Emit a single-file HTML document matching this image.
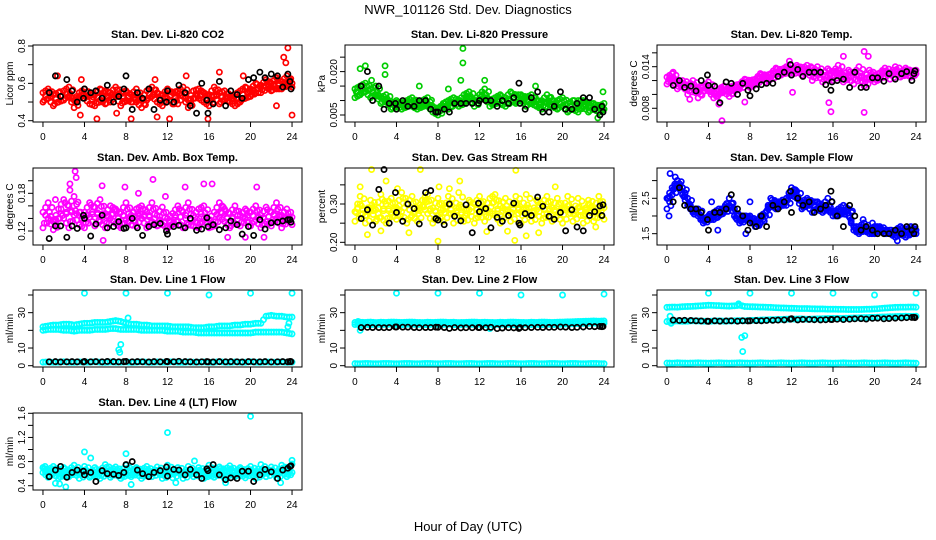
<!DOCTYPE html>
<html><head><meta charset="utf-8"><style>
html,body{margin:0;padding:0;background:#fff}
svg{display:block;font-family:"Liberation Sans",sans-serif}
</style></head><body>
<svg id="chart" width="936" height="540" viewBox="0 0 936 540" xmlns="http://www.w3.org/2000/svg">
<text x="468" y="14" text-anchor="middle" font-size="13">NWR_101126  Std. Dev. Diagnostics</text>
<text x="468" y="531" text-anchor="middle" font-size="13">Hour of Day (UTC)</text>
</svg>
<script>
const hoursC=[0,0.5,1,1.5,2,2.5,3,3.5,4,4.5,5,5.5,6,6.5,7,7.5,8,8.5,9,9.5,10,10.5,11,11.5,12,12.5,13,13.5,14,14.5,15,15.5,16,16.5,17,17.5,18,18.5,19,19.5,20,20.5,21,21.5,22,22.5,23,23.5,24];
const hoursK=[0.6,1.2,1.7,2.3,2.8,3.3,3.9,4.0,4.6,5.1,5.7,6.2,6.8,7.3,7.8,8.0,8.6,9.1,9.6,10.2,10.7,11.3,11.9,12.0,12.6,13.1,13.7,14.2,14.8,15.3,15.8,15.9,16.4,17.0,17.6,18.1,18.7,19.2,19.8,20.3,20.9,21.4,22.0,22.6,23.1,23.6,23.8,23.9];
const xTicks=[0,4,8,12,16,20,24];

const co2A=[0.55,0.52,0.54,0.50,0.56,0.53,0.51,0.55,0.52,0.49,0.54,0.51,0.56,0.50,0.53,0.55,0.51,0.54,0.50,0.52,0.56,0.53,0.50,0.54,0.52,0.55,0.49,0.53,0.51,0.56,0.52,0.50,0.54,0.53,0.55,0.51,0.50,0.54,0.56,0.52,0.57,0.55,0.59,0.58,0.60,0.57,0.61,0.59,0.58];
const co2B=[0.50,0.57,0.48,0.55,0.51,0.58,0.47,0.53,0.57,0.54,0.48,0.57,0.49,0.55,0.58,0.48,0.56,0.50,0.57,0.47,0.51,0.58,0.55,0.48,0.57,0.49,0.56,0.58,0.47,0.52,0.57,0.55,0.48,0.58,0.49,0.56,0.53,0.48,0.50,0.58,0.53,0.60,0.55,0.62,0.56,0.63,0.57,0.64,0.60];
const co2OutX=[5.2,3.6,7.1,11,12.2,15.9,17,23.6,23.2,23.4,24,13.8,19.3,1.4,22.5,8.5,3.7,10.8];
const co2OutY=[0.41,0.43,0.44,0.42,0.41,0.41,0.66,0.79,0.74,0.71,0.43,0.64,0.64,0.64,0.48,0.41,0.62,0.62];
const co2K=[0.55,0.64,0.53,0.62,0.56,0.50,0.52,0.57,0.55,0.56,0.52,0.59,0.50,0.53,0.57,0.64,0.46,0.55,0.52,0.57,0.46,0.51,0.50,0.56,0.50,0.59,0.55,0.48,0.44,0.60,0.51,0.44,0.49,0.61,0.48,0.56,0.54,0.52,0.62,0.63,0.66,0.63,0.65,0.64,0.58,0.65,0.61,0.57];

const presA=[0.014,0.015,0.013,0.014,0.012,0.011,0.010,0.009,0.008,0.009,0.010,0.008,0.009,0.010,0.008,0.006,0.007,0.009,0.010,0.011,0.010,0.012,0.011,0.010,0.012,0.011,0.010,0.011,0.009,0.011,0.010,0.012,0.010,0.011,0.009,0.008,0.010,0.009,0.008,0.010,0.008,0.009,0.007,0.010,0.008,0.009,0.007,0.008,0.009];
const presB=[0.011,0.012,0.016,0.011,0.015,0.009,0.012,0.007,0.010,0.007,0.008,0.011,0.007,0.008,0.011,0.008,0.005,0.008,0.007,0.009,0.008,0.009,0.013,0.008,0.010,0.014,0.008,0.009,0.012,0.008,0.013,0.009,0.012,0.008,0.012,0.010,0.007,0.012,0.010,0.007,0.011,0.006,0.010,0.006,0.010,0.006,0.009,0.006,0.007];
const presOutX=[0.5,1.0,2.9,2.9,10.4,10.4,10.2,12.5,17.4,23.9,6.2,23.4,1.6,9.0];
const presOutY=[0.021,0.022,0.022,0.019,0.028,0.023,0.017,0.017,0.015,0.013,0.015,0.004,0.017,0.014];
const presK=[0.015,0.020,0.010,0.015,0.007,0.009,0.009,0.007,0.010,0.008,0.008,0.010,0.010,0.007,0.006,0.006,0.007,0.006,0.009,0.009,0.009,0.009,0.009,0.010,0.010,0.010,0.008,0.010,0.009,0.011,0.016,0.009,0.007,0.011,0.013,0.006,0.006,0.008,0.013,0.007,0.007,0.009,0.011,0.011,0.007,0.005,0.008,0.006];

const tempA=[0.0125,0.0122,0.0118,0.0115,0.0112,0.0110,0.0108,0.0112,0.0105,0.0102,0.0108,0.0104,0.0110,0.0113,0.0115,0.0117,0.0120,0.0122,0.0125,0.0127,0.0130,0.0132,0.0135,0.0133,0.0136,0.0134,0.0137,0.0135,0.0133,0.0130,0.0128,0.0125,0.0132,0.0135,0.0128,0.0124,0.0130,0.0127,0.0122,0.0125,0.0128,0.0131,0.0133,0.0130,0.0134,0.0132,0.0129,0.0133,0.0135];
const tempB=[0.0115,0.0130,0.0108,0.0120,0.0100,0.0120,0.0095,0.0105,0.0118,0.0095,0.0100,0.0112,0.0097,0.0105,0.0108,0.0122,0.0110,0.0115,0.0130,0.0118,0.0122,0.0138,0.0128,0.0140,0.0128,0.0142,0.0128,0.0142,0.0120,0.0140,0.0118,0.0137,0.0120,0.0142,0.0118,0.0135,0.0115,0.0140,0.0112,0.0135,0.0118,0.0122,0.0138,0.0122,0.0140,0.0125,0.0138,0.0125,0.0130];
const tempOutX=[5.3,15.8,19.0,19.0,19.4,17.0,14.0,15.6,2.2,7.5,0.6,12.1,5.0,11.8];
const tempOutY=[0.0062,0.0075,0.0074,0.0162,0.0155,0.0155,0.0138,0.0088,0.0093,0.0089,0.0132,0.0103,0.0086,0.0148];
const tempK=[0.0113,0.0120,0.0110,0.0112,0.0105,0.0120,0.0128,0.0113,0.0112,0.0088,0.0118,0.0116,0.0100,0.0116,0.0106,0.0098,0.0108,0.0114,0.0116,0.0116,0.0126,0.0132,0.0143,0.0128,0.0136,0.0126,0.0132,0.0132,0.0132,0.0114,0.0106,0.0118,0.0120,0.0122,0.0110,0.0132,0.0110,0.0110,0.0124,0.0124,0.0119,0.0130,0.0122,0.0130,0.0133,0.0120,0.0130,0.0134];

const boxA=[0.150,0.140,0.135,0.155,0.140,0.160,0.145,0.130,0.150,0.142,0.158,0.135,0.148,0.140,0.132,0.150,0.138,0.145,0.128,0.140,0.150,0.135,0.145,0.130,0.140,0.148,0.135,0.150,0.130,0.145,0.155,0.140,0.138,0.150,0.142,0.135,0.148,0.132,0.145,0.140,0.150,0.138,0.145,0.135,0.150,0.140,0.145,0.138,0.142];
const boxB=[0.125,0.165,0.122,0.140,0.170,0.125,0.175,0.150,0.125,0.165,0.128,0.170,0.125,0.160,0.155,0.125,0.165,0.130,0.155,0.160,0.125,0.165,0.128,0.158,0.125,0.130,0.160,0.125,0.165,0.128,0.125,0.160,0.125,0.128,0.165,0.155,0.125,0.160,0.128,0.155,0.128,0.160,0.125,0.158,0.128,0.165,0.125,0.155,0.130];
const boxOutX=[3.1,3.2,2.6,2.6,5.8,5.7,7.9,10.6,13.7,15.5,16.3,20.6,11.8,9.2,1.2,19.5,21.3,17.8];
const boxOutY=[0.215,0.205,0.195,0.185,0.105,0.192,0.190,0.202,0.190,0.195,0.195,0.190,0.175,0.180,0.170,0.110,0.110,0.110];
const boxK=[0.108,0.128,0.128,0.110,0.128,0.124,0.145,0.140,0.112,0.131,0.145,0.125,0.127,0.135,0.124,0.125,0.140,0.125,0.113,0.127,0.130,0.132,0.120,0.115,0.127,0.129,0.125,0.140,0.121,0.123,0.141,0.127,0.130,0.122,0.125,0.136,0.130,0.115,0.127,0.113,0.138,0.123,0.133,0.134,0.136,0.138,0.138,0.134];

const rhA=[0.280,0.300,0.270,0.290,0.285,0.265,0.300,0.275,0.290,0.280,0.300,0.270,0.285,0.295,0.275,0.290,0.270,0.285,0.300,0.275,0.290,0.265,0.285,0.300,0.275,0.290,0.280,0.270,0.295,0.285,0.275,0.300,0.280,0.290,0.270,0.285,0.300,0.275,0.290,0.270,0.285,0.295,0.275,0.290,0.270,0.300,0.285,0.275,0.290];
const rhB=[0.255,0.320,0.250,0.310,0.255,0.325,0.250,0.315,0.260,0.330,0.250,0.320,0.255,0.310,0.325,0.250,0.315,0.255,0.320,0.250,0.330,0.255,0.310,0.250,0.320,0.255,0.315,0.325,0.250,0.315,0.255,0.320,0.250,0.325,0.255,0.310,0.250,0.320,0.255,0.315,0.250,0.320,0.255,0.315,0.250,0.310,0.255,0.320,0.260];
const rhOutX=[0.5,1.6,6.3,8.0,8.1,15.5,10.1,19.3,1.2,2.5,5.2,12.7,14.7,16.5,17.7,15.4,23.2,3.0,4.1,9.1];
const rhOutY=[0.345,0.39,0.39,0.203,0.345,0.388,0.36,0.345,0.22,0.23,0.225,0.228,0.229,0.217,0.225,0.205,0.24,0.36,0.34,0.34];
const rhK=[0.262,0.285,0.245,0.338,0.390,0.250,0.330,0.278,0.255,0.300,0.288,0.248,0.330,0.335,0.262,0.258,0.246,0.300,0.268,0.256,0.298,0.225,0.302,0.280,0.288,0.238,0.265,0.255,0.270,0.302,0.250,0.245,0.275,0.270,0.318,0.294,0.268,0.260,0.278,0.230,0.285,0.240,0.230,0.270,0.280,0.295,0.270,0.298];

const sfA=[2.5,2.8,2.9,2.6,2.3,2.2,2.0,1.9,1.9,2.1,2.2,2.2,2.5,2.2,1.9,1.9,2.0,1.8,2.0,2.1,2.3,2.4,2.3,2.5,2.6,2.5,2.4,2.3,2.4,2.2,2.3,2.2,2.1,2.2,2.3,2.0,1.7,1.7,1.6,1.6,1.7,1.6,1.6,1.5,1.6,1.5,1.6,1.5,1.6];
const sfB=[2.2,2.6,3.0,2.8,2.5,2.1,2.2,1.8,2.0,1.9,2.0,2.1,2.3,2.0,1.8,2.0,1.9,1.7,1.8,2.0,2.5,2.2,2.4,2.3,2.8,2.7,2.2,2.5,2.1,2.4,2.1,2.5,2.0,2.0,2.1,2.2,1.6,1.5,1.8,1.5,1.5,1.7,1.5,1.6,1.4,1.7,1.4,1.7,1.5];
const sfOutX=[0.2,0.3,4.9,7.6,8.0,4.3,17.8,18.9,22.2,19.8,0.8,1.0];
const sfOutY=[2.0,3.2,1.6,1.5,2.4,2.4,2.1,1.9,1.3,1.8,3.1,3.0];
const sfK=[2.4,2.8,2.3,2.2,2.2,2.1,1.9,1.6,2.1,2.1,2.2,2.6,2.2,2.0,1.6,1.8,1.7,2.0,1.7,2.3,2.2,2.4,2.7,2.1,2.5,2.3,2.4,2.1,2.2,2.3,2.7,2.4,2.0,1.7,2.3,2.0,1.6,1.7,1.6,1.5,1.5,1.5,1.6,1.5,1.7,1.6,1.5,1.7];

const l1A=[22,22.5,23,23,23.5,23.5,23,23.5,24,24,24.5,24.5,24.5,25,25.5,25,24,23.5,23.5,23,23,22.5,22.5,22.5,22.5,22,22,22,22,21.5,21.5,21.5,22,22,22.5,22.5,22.5,23,23,23.5,23.5,24,24,28,28.5,28,28,27.5,27.5];
const l1B=[20,20.5,20.5,20.5,20,20,19.5,20,20,20,20.5,20.5,20.5,21,21,20.5,20.5,20.5,20.5,20,20,20,20,20,19.5,19.5,19.5,19,19,19,18.5,18.5,18.5,18.5,18.5,18.5,18.5,18.5,18.5,18.5,18.5,19,19,19,19,19,19,18.5,18];
const l1C=[2,2.1,1.9,2,2.2,2,1.9,2.1,2,2,2.2,2,1.9,2.1,2,2,2.1,1.9,2,2.2,2,1.9,2.1,2,2,2.2,2,1.9,2.1,2,2,2.1,1.9,2,2.2,2,1.9,2.1,2,2,2.2,2,1.9,2.1,2,2,2.1,1.9,2];
const l1OutX=[4,8,12,16,20,24,7.3,7.4,7.5,23.6,23.7,8.2];
const l1OutY=[41,41,41,40,41,41,9,7.5,12,22,24,27];
const l1K=[2.2,2.3,2.1,2.2,2.3,2.2,2.1,2.4,2.2,2.3,2.2,2.4,2.3,2.2,2.3,2.4,2.2,2.3,2.2,2.1,2.3,2.2,2.4,2.3,2.2,2.5,2.3,2.2,2.1,2.2,2.3,2.2,2.1,2.3,2.2,2.3,2.2,2.1,2.3,2.2,2.2,2.3,2.1,2.2,2.3,2.2,2.4,2.3];

const l2A=[24.5,24.6,24.5,24.7,24.4,24.6,24.5,24.7,24.6,24.5,24.6,24.7,24.5,24.4,24.6,24.5,24.6,24.7,24.5,24.6,24.4,24.5,24.6,24.7,24.5,24.6,24.5,24.4,24.6,24.5,24.7,24.6,24.5,24.4,24.6,24.5,24.7,24.6,24.5,24.6,24.7,24.8,24.9,25.0,25.1,25.2,25.3,25.2,25.3];
const l2B=[23.3,23.5,23.4,23.2,23.5,23.3,23.4,23.5,23.3,23.2,23.4,23.5,23.3,23.4,23.2,23.5,23.3,23.4,23.5,23.3,23.2,23.4,23.5,23.3,23.4,23.2,23.5,23.3,23.4,23.5,23.3,23.2,23.4,23.5,23.3,23.4,23.2,23.5,23.3,23.4,23.5,23.6,23.7,23.8,23.9,24.0,24.1,24.0,24.1];
const l2C=[1.2,1.1,1.3,1.2,1.1,1.2,1.3,1.2,1.1,1.2,1.3,1.2,1.1,1.2,1.3,1.2,1.1,1.2,1.3,1.2,1.1,1.2,1.3,1.2,1.1,1.2,1.3,1.2,1.1,1.2,1.3,1.2,1.1,1.2,1.3,1.2,1.1,1.2,1.3,1.2,1.1,1.2,1.3,1.2,1.1,1.2,1.3,1.2,1.1];
const l2OutX=[4,8,12,16,20,24,0.5,13,0.3];
const l2OutY=[41,41,41,40,40,40.5,20,21,25];
const l2K=[21.6,21.7,21.6,21.6,21.5,21.6,21.9,21.9,21.8,21.8,21.6,21.5,21.6,21.6,21.8,21.7,21.6,21.1,21.6,21.4,21.5,21.5,21.6,21.6,21.5,21.7,21.0,21.3,21.5,21.4,21.1,21.6,21.5,21.6,21.7,21.6,21.7,21.7,21.9,21.8,21.6,21.7,21.9,22.2,22.1,22.2,22.1,22.2];

const l3A=[33,33.2,33.1,33.4,33.5,33.6,33.8,34,34.2,34.1,34,33.8,33.7,33.9,34.2,33.5,33.4,33.3,33.2,33.1,33,32.8,32.7,32.6,32.5,32.4,32.3,32.3,32.2,32.1,32.1,32,32,31.9,31.9,31.8,31.8,31.8,31.9,32,32.1,32.3,32.6,32.8,33,33.1,33.1,33.2,33.1];
const l3B=[25,25.2,25.3,25.1,25.2,25.4,25.3,25.2,25.1,25.3,25.4,25.2,25.3,25.4,25.5,25.4,25.6,25.7,25.8,25.9,26,26.1,26.2,26.3,26.4,26.4,26.5,26.3,26.4,26.5,26.6,26.7,26.8,26.7,26.8,26.9,27,27.1,27.2,27.3,27.4,27.5,27.6,27.7,27.8,27.9,28,27.9,28];
const l3C=[1.5,1.4,1.6,1.5,1.4,1.5,1.6,1.5,1.4,1.5,1.6,1.5,1.4,1.5,1.6,1.5,1.4,1.5,1.6,1.5,1.4,1.5,1.6,1.5,1.4,1.5,1.6,1.5,1.4,1.5,1.6,1.5,1.4,1.5,1.6,1.5,1.4,1.5,1.6,1.5,1.4,1.5,1.6,1.5,1.4,1.5,1.6,1.5,1.4];
const l3OutX=[4,8,12,16,20,24,0.3,0.4,7.2,7.5,7.3,6.9];
const l3OutY=[41,41,41,41,40,41,28,24,16,17,8,35];
const l3K=[25.8,25.6,25.7,25.6,25.4,25.3,25.2,25.1,25.4,25.2,25.3,25.4,25.2,25.4,25.3,25.4,25.5,25.4,25.6,25.7,25.8,25.9,26.3,26.6,25.9,26.2,26.2,26.0,25.9,26.0,26.2,26.1,26.3,26.1,26.3,26.5,26.6,26.4,26.8,26.9,26.5,26.7,26.9,27.0,27.2,27.3,27.4,27.2];

const l4A=[0.62,0.66,0.60,0.64,0.58,0.66,0.62,0.60,0.65,0.61,0.58,0.64,0.62,0.66,0.60,0.63,0.59,0.64,0.61,0.66,0.60,0.62,0.65,0.58,0.63,0.61,0.66,0.59,0.63,0.60,0.65,0.62,0.58,0.64,0.61,0.66,0.60,0.63,0.59,0.65,0.62,0.60,0.64,0.61,0.66,0.60,0.63,0.65,0.62];
const l4B=[0.70,0.54,0.72,0.52,0.70,0.55,0.74,0.52,0.72,0.54,0.70,0.52,0.75,0.54,0.71,0.52,0.74,0.55,0.70,0.52,0.72,0.55,0.71,0.52,0.74,0.53,0.70,0.52,0.72,0.55,0.70,0.52,0.74,0.54,0.71,0.52,0.73,0.55,0.70,0.53,0.72,0.52,0.75,0.55,0.71,0.53,0.74,0.55,0.76];
const l4OutX=[4,4.6,8,12,20,2.2,1.2,8.5,0.2,24,14.6,12.8,1.6,17.6,22.9];
const l4OutY=[0.96,0.86,0.93,1.28,1.55,0.38,0.44,0.42,0.72,0.82,0.81,0.45,0.43,0.45,0.45];
const l4K=[0.55,0.66,0.72,0.54,0.62,0.66,0.64,0.58,0.62,0.47,0.65,0.60,0.59,0.57,0.62,0.75,0.80,0.66,0.60,0.55,0.62,0.65,0.71,0.56,0.67,0.66,0.58,0.67,0.58,0.52,0.68,0.65,0.75,0.58,0.50,0.53,0.52,0.64,0.64,0.47,0.58,0.67,0.63,0.52,0.66,0.69,0.72,0.73];

const panels=[
 {name:'co2',title:'Stan. Dev. Li-820 CO2',ylab:'Licor ppm',col:0,row:0,ymin:0.393,ymax:0.8054,ticks:[0.4,0.5,0.6,0.7,0.8],labels:[0.4,0.6,0.8],dec:1,color:'#ff0000',A:co2A,B:co2B,C:null,mix:true,ox:co2OutX,oy:co2OutY,K:co2K},
 {name:'pressure',title:'Stan. Dev. Li-820 Pressure',ylab:'kPa',col:1,row:0,ymin:0.00258,ymax:0.0292,ticks:[0.005,0.010,0.015,0.020,0.025],labels:[0.005,0.020],dec:3,color:'#00cd00',A:presA,B:presB,C:null,mix:true,ox:presOutX,oy:presOutY,K:presK},
 {name:'temp',title:'Stan. Dev. Li-820 Temp.',ylab:'degrees C',col:2,row:0,ymin:0.00602,ymax:0.01713,ticks:[0.008,0.010,0.012,0.014,0.016],labels:[0.008,0.014],dec:3,color:'#ff00ff',A:tempA,B:tempB,C:null,mix:true,ox:tempOutX,oy:tempOutY,K:tempK},
 {name:'box-temp',title:'Stan. Dev. Amb. Box Temp.',ylab:'degrees C',col:0,row:1,ymin:0.0977,ymax:0.2203,ticks:[0.12,0.14,0.16,0.18,0.20],labels:[0.12,0.18],dec:2,color:'#ff00ff',A:boxA,B:boxB,C:null,mix:true,ox:boxOutX,oy:boxOutY,K:boxK},
 {name:'rh',title:'Stan. Dev. Gas Stream RH',ylab:'percent',col:1,row:1,ymin:0.193,ymax:0.394,ticks:[0.20,0.25,0.30,0.35],labels:[0.20,0.30],dec:2,color:'#ffff00',A:rhA,B:rhB,C:null,mix:true,ox:rhOutX,oy:rhOutY,K:rhK},
 {name:'sample-flow',title:'Stan. Dev. Sample Flow',ylab:'ml/min',col:2,row:1,ymin:1.18,ymax:3.356,ticks:[1.5,2.0,2.5,3.0],labels:[1.5,2.5],dec:1,color:'#0000ff',A:sfA,B:sfB,C:null,mix:true,ox:sfOutX,oy:sfOutY,K:sfK},
 {name:'line1',title:'Stan. Dev. Line 1 Flow',ylab:'ml/min',col:0,row:2,ymin:-0.74,ymax:42.83,ticks:[0,10,20,30,40],labels:[0,10,30],dec:0,color:'#00ffff',A:l1A,B:l1B,C:l1C,mix:false,ox:l1OutX,oy:l1OutY,K:l1K},
 {name:'line2',title:'Stan. Dev. Line 2 Flow',ylab:'ml/min',col:1,row:2,ymin:-0.74,ymax:42.83,ticks:[0,10,20,30,40],labels:[0,10,30],dec:0,color:'#00ffff',A:l2A,B:l2B,C:l2C,mix:false,ox:l2OutX,oy:l2OutY,K:l2K},
 {name:'line3',title:'Stan. Dev. Line 3 Flow',ylab:'ml/min',col:2,row:2,ymin:-0.74,ymax:42.83,ticks:[0,10,20,30,40],labels:[0,10,30],dec:0,color:'#00ffff',A:l3A,B:l3B,C:l3C,mix:false,ox:l3OutX,oy:l3OutY,K:l3K},
 {name:'line4',title:'Stan. Dev. Line 4 (LT) Flow',ylab:'ml/min',col:0,row:3,ymin:0.329,ymax:1.605,ticks:[0.4,0.6,0.8,1.0,1.2,1.4,1.6],labels:[0.4,0.8,1.2,1.6],dec:1,color:'#00ffff',A:l4A,B:l4B,C:null,mix:true,ox:l4OutX,oy:l4OutY,K:l4K}
];

const NS='http://www.w3.org/2000/svg';
const svg=document.getElementById('chart');
const rowTop=[45,168,290,413];
function mk(tag,attrs,parent){const e=document.createElementNS(NS,tag);for(const k in attrs)e.setAttribute(k,attrs[k]);parent.appendChild(e);return e;}

panels.forEach(p=>{
  const ox=p.col*312, L=ox+33, R=ox+302, T=rowTop[p.row], B=T+77;
  const xs=v=>L+(v+0.96)/25.92*(R-L);
  const ys=v=>B-(v-p.ymin)/(p.ymax-p.ymin)*(B-T);
  const g=mk('g',{},svg);
  
  
  const t=mk('text',{x:(L+R)/2,y:T-7,'text-anchor':'middle','font-size':'11','font-weight':'bold'},g);
  
  
  t.textContent=p.title;
  const yl=mk('text',{x:0,y:0,'text-anchor':'middle','font-size':'10',transform:`translate(${ox+13},${(T+B)/2}) rotate(-90)`},g);
  
  
  yl.textContent=p.ylab;
  xTicks.forEach(v=>{
    const tk=mk('line',{x1:xs(v),x2:xs(v),y1:B,y2:B+5,stroke:'#000','stroke-width':1},g);
    
    
    const tl=mk('text',{x:xs(v),y:B+18,'text-anchor':'middle','font-size':'10'},g);
    
    
    tl.textContent=v;
  });
  p.ticks.forEach(v=>{
    const tk=mk('line',{x1:L-5,x2:L,y1:ys(v),y2:ys(v),stroke:'#000','stroke-width':1},g);
    
    
  });
  p.labels.forEach(v=>{
    const tl=mk('text',{x:0,y:0,'text-anchor':'middle','font-size':'10',transform:`translate(${L-8},${ys(v)}) rotate(-90)`},g);
    
    
    tl.textContent=v.toFixed(p.dec);
  });
  const pts=mk('g',{fill:'none','stroke-width':1.7},g);
  
  
  const dot=(x,y,c,nm)=>{const c1=mk('circle',{cx:xs(x),cy:ys(y),r:2.6,stroke:c},pts);
    
    };
  [p.A,p.B,p.C].forEach(arr=>{ if(!arr) return; arr.forEach((v,i)=>dot(hoursC[i],v,p.color,'point'));
    arr.forEach((v,i)=>{ if(i<arr.length-1){ dot((hoursC[i]+hoursC[i+1])/2,(v+arr[i+1])/2,p.color,'point'); } });
  });
  if(p.mix){
    p.A.forEach((v,i)=>{ if(i<p.A.length-1){
      dot(hoursC[i]+0.25,(v+p.B[i+1])/2,p.color,'point');
      dot(hoursC[i]+0.125,(p.A[i+1]+p.B[i])/2,p.color,'point');
      dot(hoursC[i]+0.375,(v*0.3+p.B[i]*0.7),p.color,'point');
    }});
  }
  p.ox.forEach((x,i)=>dot(x,p.oy[i],p.color,'outlier-point'));
  p.K.forEach((v,i)=>dot(hoursK[i],v,'#000','reference-point'));
  const bx=mk('rect',{x:L,y:T,width:R-L,height:B-T,fill:'none',stroke:'#000','stroke-width':1},g);
  
  
});
</script>
</body></html>
